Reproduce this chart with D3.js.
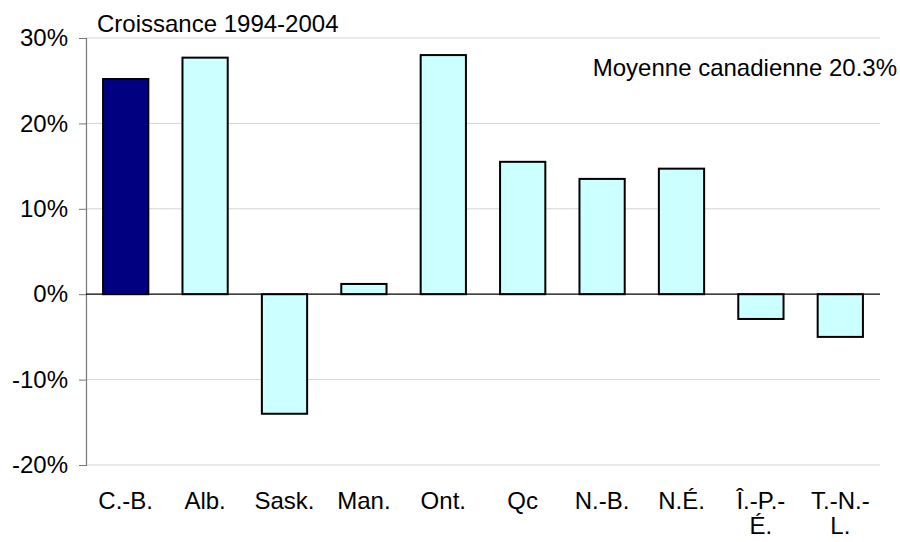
<!DOCTYPE html>
<html>
<head>
<meta charset="utf-8">
<script src="https://cdnjs.cloudflare.com/ajax/libs/d3/7.8.5/d3.min.js"></script>
<style>
  body { margin: 0; background: #fff; }
  text { font-family: "Liberation Sans", Arial, sans-serif; fill: #000; }
</style>
</head>
<body>
<div id="chart-area"></div>
<script>
// Croissance 1994-2004 par province
var provinces = ["C.-B.", "Alb.", "Sask.", "Man.", "Ont.", "Qc", "N.-B.", "N.É.", "Î.-P.-É.", "T.-N.-L."];
var growth = [25.2, 27.7, -14.0, 1.2, 28.0, 15.5, 13.5, 14.7, -2.9, -5.0];
var yTicks = [-20, -10, 0, 10, 20, 30];
var highlight = "C.-B.";

var width = 900, height = 542;
var plotLeft = 86, plotRight = 880, plotTop = 38, plotBottom = 465;

var svg = d3.select("#chart-area").append("svg")
    .attr("width", width)
    .attr("height", height);

var x = d3.scaleBand()
    .domain(provinces)
    .range([plotLeft, plotRight])
    .paddingInner(0.43)
    .paddingOuter(0.215);

var y = d3.scaleLinear()
    .domain([-20, 30])
    .range([plotBottom, plotTop]);

// gridlines
svg.selectAll("line.grid")
    .data(yTicks.filter(function (d) { return d !== 0; }))
    .enter().append("line")
    .attr("class", "grid")
    .attr("x1", plotLeft)
    .attr("x2", plotRight)
    .attr("y1", function (d) { return y(d); })
    .attr("y2", function (d) { return y(d); })
    .attr("stroke", "#d4d4d4")
    .attr("stroke-width", 1);

// y axis
var yAxis = d3.axisLeft(y)
    .tickValues(yTicks)
    .tickSize(7)
    .tickPadding(11)
    .tickFormat(function (d) { return d + "%"; });

var gy = svg.append("g")
    .attr("transform", "translate(" + plotLeft + ",0)")
    .call(yAxis);
gy.select(".domain").attr("stroke", "#777").attr("stroke-width", 1.2);
gy.selectAll(".tick line").attr("stroke", "#777");
gy.selectAll(".tick text")
    .style("font-size", "24px")
    .attr("font-family", "Liberation Sans, Arial, sans-serif");

// bars
svg.selectAll("rect.bar")
    .data(growth)
    .enter().append("rect")
    .attr("class", "bar")
    .attr("x", function (d, i) { return x(provinces[i]); })
    .attr("width", x.bandwidth())
    .attr("y", function (d) { return y(Math.max(0, d)); })
    .attr("height", function (d) { return Math.abs(y(d) - y(0)); })
    .attr("fill", function (d, i) { return provinces[i] === highlight ? "#000080" : "#ccffff"; })
    .attr("stroke", "#000")
    .attr("stroke-width", 2);

// zero line
svg.append("line")
    .attr("x1", plotLeft)
    .attr("x2", plotRight)
    .attr("y1", y(0))
    .attr("y2", y(0))
    .attr("stroke", "#000")
    .attr("stroke-width", 1.2);

// category labels, wrapped after a hyphen when too wide
var labels = svg.selectAll("text.cat")
    .data(provinces)
    .enter().append("text")
    .attr("class", "cat")
    .attr("x", function (d) { return x(d) + x.bandwidth() / 2; })
    .attr("y", 509)
    .attr("text-anchor", "middle")
    .style("font-size", "24px")
    .text(function (d) { return d; });

labels.each(function (d) {
    var t = d3.select(this);
    if (this.getComputedTextLength() > x.step() * 0.85) {
        var cut = d.lastIndexOf("-") + 1;
        var cx = t.attr("x");
        t.text(null);
        t.append("tspan").attr("x", cx).text(d.slice(0, cut));
        t.append("tspan").attr("x", cx).attr("dy", 25).text(d.slice(cut));
    }
});

// titles
svg.append("text")
    .attr("x", 97)
    .attr("y", 32)
    .style("font-size", "24px")
    .text("Croissance 1994-2004");

svg.append("text")
    .attr("x", 897)
    .attr("y", 76)
    .attr("text-anchor", "end")
    .style("font-size", "24px")
    .text("Moyenne canadienne 20.3%");
</script>
</body>
</html>
